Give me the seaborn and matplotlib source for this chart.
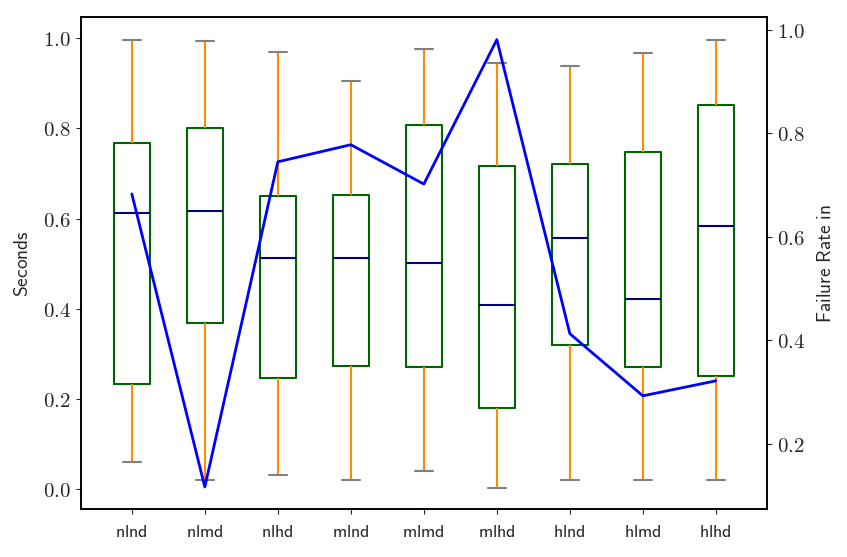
import matplotlib
matplotlib.use("Agg")
import matplotlib.pyplot as plt
from matplotlib.ticker import FuncFormatter, MultipleLocator
import seaborn as sns
import pandas as pd
import numpy as np

# categories on the x axis
configs = ['nlnd', 'nlmd', 'nlhd', 'mlnd', 'mlmd', 'mlhd', 'hlnd', 'hlmd', 'hlhd']

# five-number summaries (seconds)
whisker_low = [0.060, 0.020, 0.031, 0.020, 0.040, 0.004, 0.020, 0.020, 0.020]
q1 = [0.233, 0.368, 0.246, 0.273, 0.271, 0.180, 0.319, 0.271, 0.251]
median = [0.612, 0.616, 0.512, 0.512, 0.501, 0.408, 0.557, 0.421, 0.583]
q3 = [0.767, 0.800, 0.650, 0.652, 0.807, 0.716, 0.721, 0.747, 0.851]
whisker_high = [0.996, 0.993, 0.969, 0.905, 0.976, 0.945, 0.938, 0.967, 0.996]

# failure rate line (right axis)
failure_rate = [0.683, 0.117, 0.745, 0.778, 0.702, 0.981, 0.413, 0.293, 0.322]

plt.rcParams['mathtext.fontset'] = 'cm'
sns.set_style("ticks")

rows = []
for i, c in enumerate(configs):
    for v in (whisker_low[i], q1[i], median[i], q3[i], whisker_high[i]):
        rows.append({'config': c, 'seconds': v})
df = pd.DataFrame(rows)

fig = plt.figure(figsize=(8.47, 5.57), dpi=100)
ax = fig.add_axes([0.0953, 0.0856, 0.9055 - 0.0953, 0.969 - 0.0856])

sns.boxplot(data=df, x='config', y='seconds', order=configs, ax=ax,
            width=0.5, whis=(0, 100), showfliers=False, fill=False,
            linewidth=1.5,
            boxprops=dict(color='darkgreen', linewidth=1.5),
            medianprops=dict(color='navy', linewidth=1.5),
            whiskerprops=dict(color='darkorange', linewidth=1.5),
            capprops=dict(color='gray', linewidth=1.5))

ax.set_xlim(-0.7, 8.7)
ax.set_ylim(-0.0443, 1.0466)
ax.yaxis.set_major_locator(MultipleLocator(0.2))
ax.yaxis.set_major_formatter(FuncFormatter(lambda v, p: f"${v:.1f}$"))
ax.set_xticks(range(len(configs)))
ax.set_xticklabels([rf"$\mathsf{{{c}}}$" for c in configs], fontsize=13)
ax.tick_params(axis='y', labelsize=15)
ax.tick_params(axis='x', pad=6)
ax.set_xlabel('')
ax.set_ylabel(r"$\mathsf{Seconds}$", fontsize=14, labelpad=8)

ax2 = ax.twinx()
sns.lineplot(x=np.arange(len(configs)), y=failure_rate, ax=ax2,
             color='blue', linewidth=2)
ax2.yaxis.set_major_locator(MultipleLocator(0.2))
ax2.yaxis.set_major_formatter(FuncFormatter(lambda v, p: f"${v:.1f}$"))
ax2.tick_params(axis='y', labelsize=15)
ax2.set_ylabel(r"$\mathsf{Failure\ Rate\ in}$", fontsize=14, labelpad=8)

for a in (ax, ax2):
    for s in a.spines.values():
        s.set_color('black')
        s.set_linewidth(1.2)

fig.savefig('out.png', dpi=100)
